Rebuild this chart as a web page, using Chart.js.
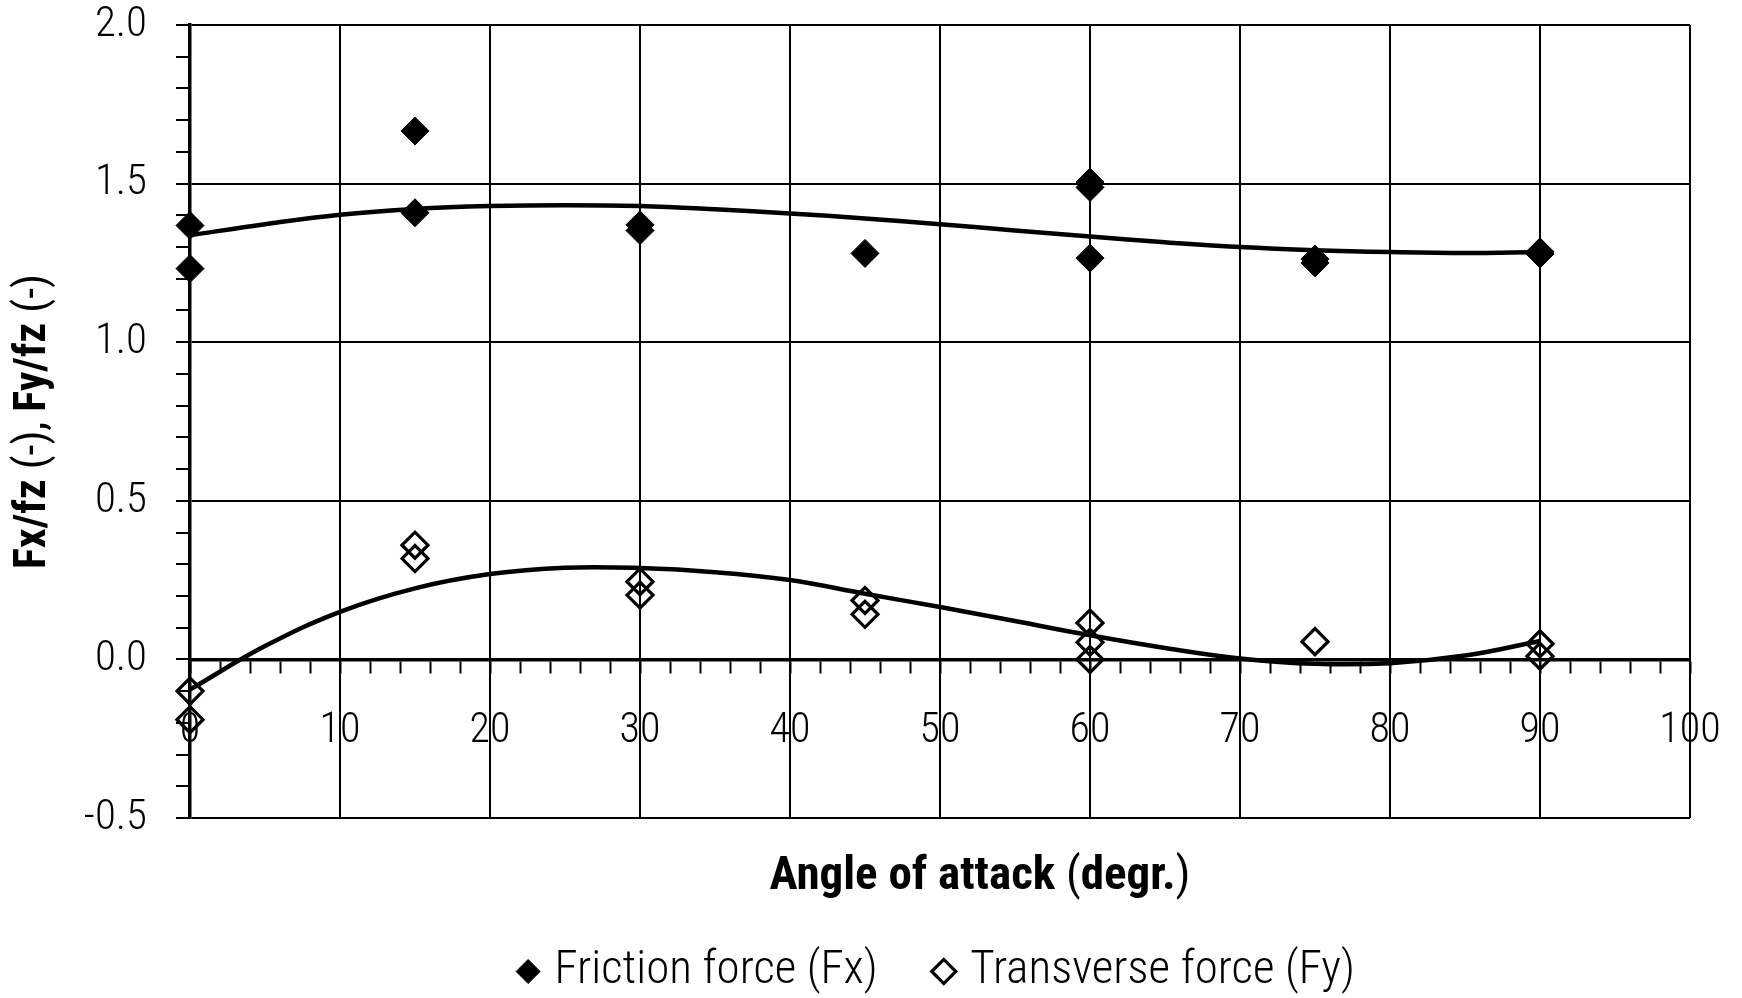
<!DOCTYPE html>
<html>
<head>
<meta charset="utf-8">
<title>Friction and transverse force vs angle of attack</title>
<script src="https://cdn.jsdelivr.net/npm/chart.js@4.4.1/dist/chart.umd.min.js"></script>
<style>
  html, body { margin: 0; padding: 0; background: #fff; }
  #wrap { width: 1742px; height: 998px; }
</style>
</head>
<body>
<div id="wrap"><canvas id="forceChart" width="1742" height="998"></canvas></div>
<script>
// Measured friction force Fx/fz per angle of attack
const fxAngles = [0, 0, 15, 15, 30, 30, 45, 60, 60, 60, 75, 75, 90, 90];
const fxValues = [1.368, 1.232, 1.666, 1.408, 1.370, 1.352, 1.280, 1.505, 1.488, 1.265, 1.262, 1.250, 1.285, 1.278];

// Measured transverse force Fy/fz per angle of attack
const fyAngles = [0, 0, 15, 15, 30, 30, 45, 45, 60, 60, 60, 75, 90, 90];
const fyValues = [-0.100, -0.190, 0.360, 0.318, 0.245, 0.203, 0.186, 0.142, 0.115, 0.054, 0.000, 0.056, 0.049, 0.010];

// Trend lines (polynomial fits), sampled every 5 degrees
const trendAngles = [0, 5, 10, 15, 20, 25, 30, 35, 40, 45, 50, 55, 60, 65, 70, 75, 80, 85, 90];
const fxTrend = [1.337, 1.372, 1.402, 1.420, 1.429, 1.432, 1.429, 1.419, 1.406, 1.390, 1.372, 1.352, 1.333, 1.315, 1.300, 1.290, 1.284, 1.281, 1.284];
const fyTrend = [-0.095, 0.042, 0.150, 0.224, 0.269, 0.289, 0.288, 0.275, 0.250, 0.207, 0.165, 0.121, 0.076, 0.036, 0.003, -0.014, -0.012, 0.012, 0.058];

// Axis ranges
const xMin = 0, xMax = 100, xMajor = 10, xMinor = 2;
const yMin = -0.5, yMax = 2.0, yMajor = 0.5, yMinor = 0.1;

// Axis titles, split into parts by font weight
const xTitleParts = [['Angle of attack ', 'bold'], ['(', 'normal'], ['degr.', 'bold'], [')', 'normal']];
const yTitleParts = [['Fx/fz', 'bold'], [' (-), ', 'normal'], ['Fy/fz', 'bold'], [' (-)', 'normal']];

const FONT = "'Roboto Condensed', 'Liberation Sans Narrow', 'DejaVu Sans Condensed', sans-serif";
Chart.defaults.font.family = FONT;
Chart.defaults.color = '#000';

function toPoints(xs, ys) {
  return xs.map((x, i) => ({ x: x, y: ys[i] }));
}

function isMultiple(v, step) {
  const r = v / step;
  return Math.abs(r - Math.round(r)) < 1e-6;
}

// write a title made of several parts, centred on (cx, cy), optionally rotated
function drawMixedText(ctx, parts, size, cx, cy, angle) {
  ctx.save();
  ctx.fillStyle = '#000';
  ctx.textBaseline = 'middle';
  ctx.textAlign = 'left';
  let total = 0;
  const widths = parts.map(([text, weight]) => {
    ctx.font = `${weight} ${size}px ${FONT}`;
    const w = ctx.measureText(text).width;
    total += w;
    return w;
  });
  ctx.translate(cx, cy);
  ctx.rotate(angle);
  let x = -total / 2;
  parts.forEach(([text, weight], i) => {
    ctx.font = `${weight} ${size}px ${FONT}`;
    ctx.fillText(text, x, 0);
    x += widths[i];
  });
  ctx.restore();
}

const axisTitlePlugin = {
  id: 'axisTitles',
  afterDraw(chart) {
    const { ctx, chartArea } = chart;
    const midX = (chartArea.left + chartArea.right) / 2;
    const midY = (chartArea.top + chartArea.bottom) / 2;
    drawMixedText(ctx, xTitleParts, 47, midX + 40, chartArea.bottom + 59, 0);
    drawMixedText(ctx, yTitleParts, 44, 34, midY, -Math.PI / 2);
  }
};

const ctx = document.getElementById('forceChart');

const forceChart = new Chart(ctx, {
  type: 'scatter',
  data: {
    datasets: [
      {
        label: 'Friction force (Fx)',
        data: toPoints(fxAngles, fxValues),
        pointStyle: 'rectRot',
        pointRadius: 14,
        pointBackgroundColor: '#000',
        pointBorderColor: '#000',
        pointBorderWidth: 1,
        backgroundColor: '#000',
        borderColor: '#000',
        clip: false
      },
      {
        label: 'Transverse force (Fy)',
        data: toPoints(fyAngles, fyValues),
        pointStyle: 'rectRot',
        pointRadius: 13,
        pointBackgroundColor: 'rgba(0,0,0,0)',
        pointBorderColor: '#000',
        pointBorderWidth: 3.2,
        backgroundColor: 'rgba(0,0,0,0)',
        borderColor: '#000',
        borderWidth: 3,
        clip: false
      },
      {
        label: 'Fx trend',
        data: toPoints(trendAngles, fxTrend),
        showLine: true,
        borderColor: '#000',
        borderWidth: 4.5,
        pointRadius: 0,
        tension: 0.4
      },
      {
        label: 'Fy trend',
        data: toPoints(trendAngles, fyTrend),
        showLine: true,
        borderColor: '#000',
        borderWidth: 4.5,
        pointRadius: 0,
        tension: 0.4
      }
    ]
  },
  plugins: [axisTitlePlugin],
  options: {
    responsive: false,
    animation: false,
    devicePixelRatio: 1,
    layout: {
      padding: { top: 25, right: 52, left: 0, bottom: 0 }
    },
    plugins: {
      tooltip: { enabled: false },
      legend: {
        position: 'bottom',
        fullSize: false,
        maxHeight: 113,
        labels: {
          filter: item => item.datasetIndex < 2,
          usePointStyle: true,
          boxWidth: 6,
          boxHeight: 17,
          padding: 63,
          color: '#000',
          font: { size: 47, weight: 300 }
        }
      }
    },
    scales: {
      // bottom axis: vertical grid lines, room for the axis title
      x: {
        type: 'linear',
        position: 'bottom',
        min: xMin,
        max: xMax,
        ticks: { stepSize: xMajor, display: false },
        grid: { color: '#000', lineWidth: 2, drawTicks: false },
        border: { display: false },
        afterFit: scale => { scale.height = 67; }
      },
      // axis line crossing at y = 0 with minor ticks and labels
      x0: {
        type: 'linear',
        axis: 'x',
        position: { y: 0 },
        min: xMin,
        max: xMax,
        ticks: {
          stepSize: xMinor,
          maxTicksLimit: 60,
          autoSkip: false,
          maxRotation: 0,
          padding: 35,
          font: { size: 42, weight: 300 },
          callback: v => isMultiple(v, xMajor) ? String(v) : ''
        },
        grid: {
          drawOnChartArea: false,
          drawTicks: true,
          tickLength: 12,
          tickWidth: 2,
          tickColor: '#000'
        },
        border: { display: true, color: '#000', width: 3.5 },
        afterFit: scale => { scale.paddingLeft = 0; scale.paddingRight = 0; }
      },
      y: {
        type: 'linear',
        position: 'left',
        min: yMin,
        max: yMax,
        ticks: {
          stepSize: yMinor,
          maxTicksLimit: 40,
          autoSkip: false,
          padding: 29,
          font: { size: 43, weight: 300 },
          callback: v => isMultiple(v, yMajor) ? v.toFixed(1) : ''
        },
        grid: {
          color: c => (c.tick && isMultiple(c.tick.value, yMajor)) ? '#000' : 'rgba(0,0,0,0)',
          lineWidth: 2,
          drawTicks: true,
          tickLength: 14,
          tickWidth: 2,
          tickColor: '#000'
        },
        border: { display: true, color: '#000', width: 3.5 },
        afterFit: scale => {
          scale.width = 190;
          scale.paddingTop = 0;
          scale.paddingBottom = 0;
        }
      }
    }
  }
});
</script>
</body>
</html>
